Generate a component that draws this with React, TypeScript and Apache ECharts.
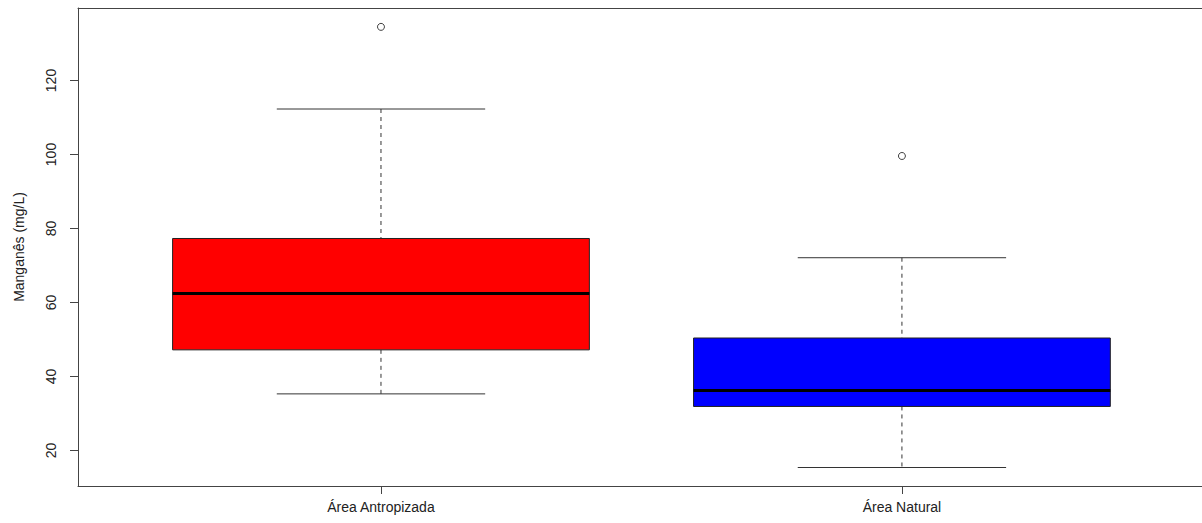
import React, { useEffect, useRef } from "react";
import * as echarts from "echarts";

const categories = ["Área Antropizada", "Área Natural"];
const positions = [1, 2];
const lowerWhisker = [35.3, 15.4];
const q1 = [47.2, 31.9];
const median = [62.4, 36.2];
const q3 = [77.3, 50.4];
const upperWhisker = [112.3, 72.1];
const boxColors = ["#ff0000", "#0000ff"];
const outlierPos = [1, 2];
const outlierValues = [134.5, 99.6];
const yTicks = [20, 40, 60, 80, 100, 120];

const FONT = "'Liberation Sans', Arial, sans-serif";
const X_MIN = 0.4184;
const X_MAX = 2.576;

export default function App() {
  const ref = useRef<HTMLDivElement>(null);
  useEffect(() => {
    if (!ref.current) return;
    const chart = echarts.init(ref.current, null, { renderer: "svg" });
    const boxData = positions.map((p, i) => [
      p,
      lowerWhisker[i],
      q1[i],
      median[i],
      q3[i],
      upperWhisker[i],
      i,
    ]);
    const renderItem = (params: any, api: any) => {
      const x = api.value(0);
      const lo = api.value(1);
      const b1 = api.value(2);
      const md = api.value(3);
      const b3 = api.value(4);
      const hi = api.value(5);
      const idx = api.value(6);
      const half = 0.4;
      const cap = 0.2;
      const pTL = api.coord([x - half, b3]);
      const pBR = api.coord([x + half, b1]);
      const pc3 = api.coord([x, b3]);
      const pc1 = api.coord([x, b1]);
      const phi = api.coord([x, hi]);
      const plo = api.coord([x, lo]);
      const capL = api.coord([x - cap, hi]);
      const capR = api.coord([x + cap, hi]);
      const capLl = api.coord([x - cap, lo]);
      const capRl = api.coord([x + cap, lo]);
      const mL = api.coord([x - half, md]);
      const mR = api.coord([x + half, md]);
      const lineStyle = { stroke: "#333", lineWidth: 1 };
      const dashStyle = { stroke: "#333", lineWidth: 1, lineDash: [4, 4] };
      return {
        type: "group",
        children: [
          { type: "line", shape: { x1: phi[0], y1: phi[1], x2: pc3[0], y2: pc3[1] }, style: dashStyle },
          { type: "line", shape: { x1: pc1[0], y1: pc1[1], x2: plo[0], y2: plo[1] }, style: dashStyle },
          { type: "line", shape: { x1: capL[0], y1: capL[1], x2: capR[0], y2: capR[1] }, style: lineStyle },
          { type: "line", shape: { x1: capLl[0], y1: capLl[1], x2: capRl[0], y2: capRl[1] }, style: lineStyle },
          {
            type: "rect",
            shape: { x: pTL[0], y: pTL[1], width: pBR[0] - pTL[0], height: pBR[1] - pTL[1] },
            style: { fill: boxColors[idx], stroke: "#222", lineWidth: 1 },
          },
          { type: "line", shape: { x1: mL[0], y1: mL[1], x2: mR[0], y2: mR[1] }, style: { stroke: "#000", lineWidth: 3 } },
        ],
      };
    };
    chart.setOption({
      animation: false,
      backgroundColor: "#ffffff",
      grid: {
        left: 78,
        top: 8,
        right: 0,
        bottom: 37,
        show: false,
      },
      xAxis: [
        {
          type: "value",
          position: "bottom",
          min: X_MIN,
          max: X_MAX,
          axisLine: { show: true, lineStyle: { color: "#444", width: 1 } },
          splitLine: { show: false },
          axisTick: { show: true, length: 8, lineStyle: { color: "#444" }, customValues: positions },
          axisLabel: {
            customValues: positions,
            formatter: (v: number) => categories[Math.round(v) - 1] ?? "",
            margin: 14,
            fontSize: 14,
            fontFamily: FONT,
            color: "#222",
          },
        },
        {
          type: "value",
          position: "top",
          min: X_MIN,
          max: X_MAX,
          axisLine: { show: true, lineStyle: { color: "#444", width: 1 } },
          splitLine: { show: false },
          axisTick: { show: false },
          axisLabel: { show: false },
        },
      ],
      yAxis: {
        type: "value",
        min: 10.4,
        max: 139.6,
        name: "Manganês (mg/L)",
        nameLocation: "middle",
        nameGap: 52,
        nameTextStyle: { fontSize: 14, fontFamily: FONT, color: "#222" },
        axisLine: { show: true, lineStyle: { color: "#444", width: 1 } },
        splitLine: { show: false },
        axisTick: { show: true, length: 8, lineStyle: { color: "#444" }, customValues: yTicks },
        axisLabel: {
          customValues: yTicks,
          rotate: 90,
          margin: 20,
          fontSize: 14,
          fontFamily: FONT,
          color: "#222",
        },
      },
      series: [
        {
          type: "custom",
          renderItem,
          data: boxData,
          encode: { x: 0, y: [1, 2, 3, 4, 5] },
          z: 2,
        },
        {
          type: "scatter",
          data: outlierPos.map((p, i) => [p, outlierValues[i]]),
          symbol: "circle",
          symbolSize: 7,
          itemStyle: { color: "#fff", borderColor: "#111", borderWidth: 1 },
          z: 3,
        },
      ],
    });
    return () => chart.dispose();
  }, []);
  return (
    <div
      ref={ref}
      style={{ position: "fixed", left: 0, top: 0, width: 1202, height: 523 }}
    />
  );
}
